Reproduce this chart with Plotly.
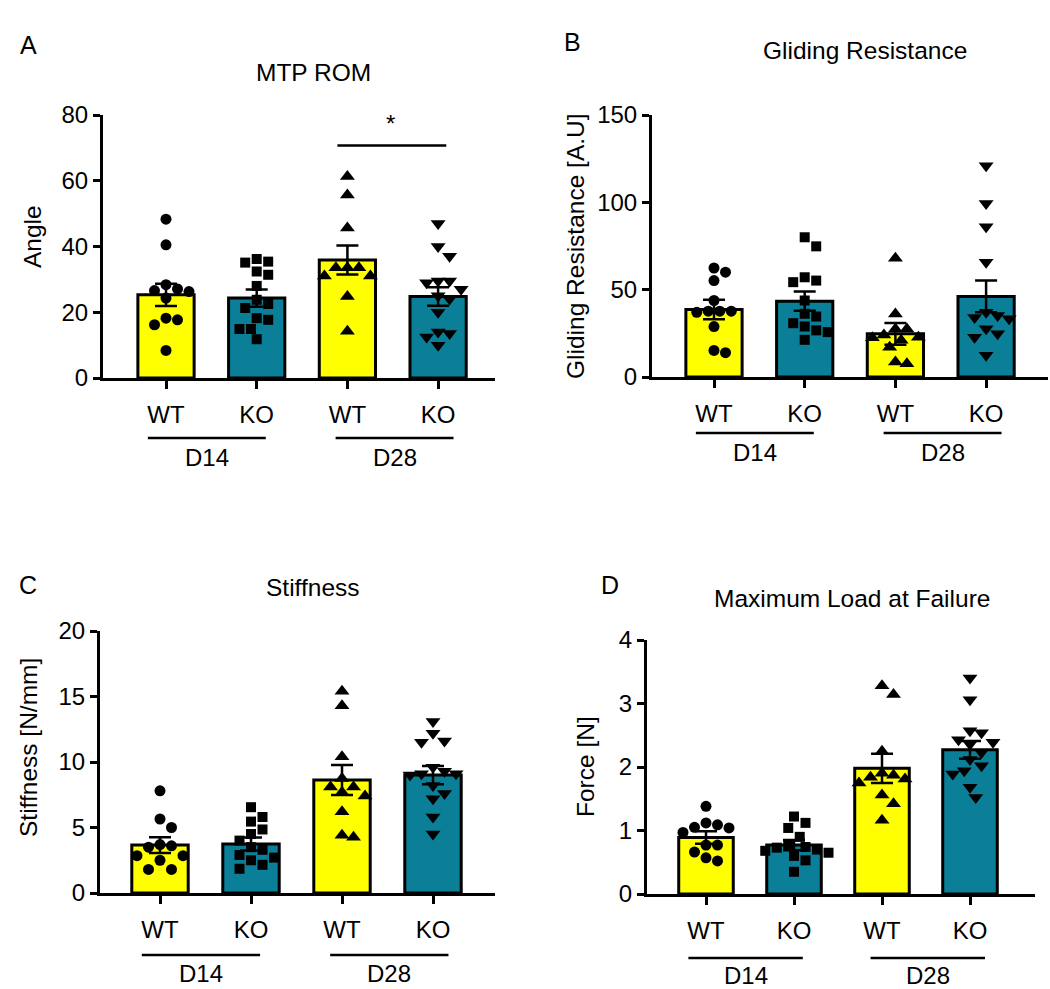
import plotly.graph_objects as go
import numpy as np

W, H = 1050, 989
FONT = "Liberation Sans, Arial, Helvetica, sans-serif"

# ---------------- data ----------------
genotypes = ["WT", "KO", "WT", "KO"]
timepoints = ["D14", "D28"]

# Panel A - MTP ROM (Angle)
a_wt14 = [48.3, 40.5, 28.4, 27.1, 26.6, 26.3, 24.3, 18.2, 17.7, 16.2, 8.4]
a_ko14 = [35.4, 32.4, 31.4, 35.1, 36.2, 28.0, 23.8, 22.5, 21.3, 18.2, 14.9, 17.7, 14.9, 11.8]
a_wt28 = [61.3, 55.7, 45.6, 33.5, 33.5, 33.5, 31.0, 31.0, 24.8, 14.2]
a_ko28 = [47.0, 40.0, 37.0, 29.5, 29.0, 29.5, 27.0, 25.0, 24.0, 20.0, 13.5, 14.0, 10.0, 12.5]
a_mean = [25.3, 24.3, 35.9, 24.8]
a_sem = [3.4, 2.6, 4.4, 2.8]

# Panel B - Gliding Resistance
b_wt14 = [60.0, 62.4, 55.2, 43.8, 37.7, 37.7, 37.0, 37.7, 28.9, 13.9, 15.2]
b_ko14 = [80.0, 74.8, 57.1, 54.3, 55.2, 43.8, 34.6, 36.2, 30.8, 28.9, 26.7, 25.7, 21.3]
b_wt28 = [68.0, 36.0, 27.5, 27.5, 24.0, 22.8, 22.5, 21.0, 17.0, 7.6, 8.6]
b_ko28 = [121.0, 99.4, 86.0, 65.7, 37.1, 33.3, 35.2, 34.0, 24.7, 22.8, 27.6, 12.4]
b_mean = [38.6, 43.4, 24.7, 46.1]
b_sem = [5.6, 5.5, 6.2, 9.1]

# Panel C - Stiffness
c_wt14 = [7.8, 5.65, 5.0, 3.6, 3.5, 3.7, 2.85, 2.85, 2.5, 1.8, 1.8]
c_ko14 = [6.55, 5.8, 5.45, 4.5, 4.85, 4.0, 3.5, 3.3, 2.9, 2.5, 2.7, 2.15, 1.85]
c_wt28 = [15.4, 14.3, 10.4, 8.75, 8.1, 8.1, 7.4, 7.7, 6.2, 4.25, 4.4]
c_ko28 = [13.1, 12.2, 11.5, 11.6, 9.6, 9.3, 9.1, 9.0, 9.1, 8.2, 7.6, 7.2, 5.8, 4.5]
c_mean = [3.66, 3.74, 8.63, 9.0]
c_sem = [0.6, 0.5, 1.14, 0.7]

# Panel D - Maximum Load at Failure
d_wt14 = [1.38, 1.05, 1.09, 1.12, 1.04, 0.97, 0.66, 0.77, 0.77, 0.52, 0.57]
d_ko14 = [1.22, 1.12, 1.04, 0.90, 0.78, 0.73, 0.74, 0.70, 0.68, 0.65, 0.60, 0.53, 0.35]
d_wt28 = [3.28, 3.14, 2.25, 1.90, 1.84, 1.75, 1.81, 1.87, 1.56, 1.42, 1.16]
d_ko28 = [3.40, 3.06, 2.57, 2.54, 2.39, 2.43, 2.36, 2.23, 2.12, 2.02, 1.94, 1.89, 1.68, 1.52]
d_mean = [0.89, 0.77, 1.98, 2.27]
d_sem = [0.10, 0.08, 0.23, 0.14]

a_ticks = [0, 20, 40, 60, 80]
b_ticks = [0, 50, 100, 150]
c_ticks = [0, 5, 10, 15, 20]
d_ticks = [0, 1, 2, 3, 4]

# ---------------- styling / layout geometry (pixels) ----------------
YELLOW = "#FFFF00"
TEAL = "#0A7F97"
bar_colors = [YELLOW, TEAL, YELLOW, TEAL]
symbols = ["circle", "square", "triangle-up", "triangle-down"]
sizes = [11, 10, 13, 13]
TICK_FS = 24
TITLE_FS = 24.5

panels = [
    dict(letter="A", title="MTP ROM", ytitle="Angle",
         groups=[a_wt14, a_ko14, a_wt28, a_ko28], mean=a_mean, sem=a_sem, ticks=a_ticks,
         x0=103, xr=495, first=166, sp=90.7, ytop=115, ybot=378,
         letter_xy=(28, 45), title_xy=(313, 72), ytitle_xy=(33, 237),
         gline_y=438, glabel_y=457),
    dict(letter="B", title="Gliding Resistance", ytitle="Gliding Resistance [A.U]",
         groups=[b_wt14, b_ko14, b_wt28, b_ko28], mean=b_mean, sem=b_sem, ticks=b_ticks,
         x0=652, xr=1048, first=714, sp=90.7, ytop=115, ybot=377,
         letter_xy=(572, 42), title_xy=(865, 50), ytitle_xy=(575, 246),
         gline_y=433, glabel_y=452),
    dict(letter="C", title="Stiffness", ytitle="Stiffness [N/mm]",
         groups=[c_wt14, c_ko14, c_wt28, c_ko28], mean=c_mean, sem=c_sem, ticks=c_ticks,
         x0=100, xr=495, first=160, sp=91.0, ytop=631, ybot=893,
         letter_xy=(28, 585), title_xy=(313, 587), ytitle_xy=(28, 748),
         gline_y=955, glabel_y=973),
    dict(letter="D", title="Maximum Load at Failure", ytitle="Force [N]",
         groups=[d_wt14, d_ko14, d_wt28, d_ko28], mean=d_mean, sem=d_sem, ticks=d_ticks,
         x0=647, xr=1035, first=706, sp=88.0, ytop=640, ybot=894,
         letter_xy=(610, 585), title_xy=(852, 598), ytitle_xy=(585, 767),
         gline_y=958, glabel_y=975),
]


def swarm(vals, ypx, xpx, diam=11.5, step=5.75):
    vals = np.asarray(vals, dtype=float)
    order = np.argsort(-vals, kind="stable")
    placed = []
    offs = np.zeros(len(vals))
    cands = [0.0]
    for j in range(1, 14):
        cands += [j * step, -j * step]
    for idx in order:
        y = vals[idx] * ypx
        chosen = cands[-1]
        for c in cands:
            if all((c - px) ** 2 + (y - py) ** 2 >= diam ** 2 for px, py in placed):
                chosen = c
                break
        placed.append((chosen, y))
        offs[idx] = chosen / xpx
    return offs


def px2x(p):
    return p / W


def px2y(p):
    return 1 - p / H


fig = go.Figure()
annotations = []
shapes = []

for i, P in enumerate(panels):
    n = "" if i == 0 else str(i + 1)
    xa, ya = "x" + n, "y" + n
    ymax = P["ticks"][-1]
    xrange_ = [-(P["first"] - P["x0"]) / P["sp"], (P["xr"] - P["first"]) / P["sp"]]
    ypx = (P["ybot"] - P["ytop"]) / ymax

    fig.add_trace(go.Bar(
        x=[0, 1, 2, 3], y=P["mean"], width=0.62,
        marker=dict(color=bar_colors, line=dict(color="black", width=3)),
        error_y=dict(type="data", array=P["sem"], visible=True, color="black",
                     thickness=2.5, width=11),
        xaxis=xa, yaxis=ya, showlegend=False, hoverinfo="skip"))

    for g, vals in enumerate(P["groups"]):
        offs = swarm(vals, ypx, P["sp"])
        fig.add_trace(go.Scatter(
            x=g + offs, y=vals, mode="markers",
            marker=dict(symbol=symbols[g], size=sizes[g], color="black",
                        line=dict(width=0)),
            xaxis=xa, yaxis=ya, showlegend=False, hoverinfo="skip"))

    fig.layout["xaxis" + n] = dict(
        domain=[px2x(P["x0"]), px2x(P["xr"])], anchor=ya, range=xrange_,
        tickvals=[0, 1, 2, 3], ticktext=genotypes, showline=True, linewidth=3,
        linecolor="black", ticks="outside", ticklen=8, tickwidth=2.5,
        tickcolor="black", showgrid=False, zeroline=False, ticklabelstandoff=5,
        automargin=False,
        tickfont=dict(family=FONT, size=TICK_FS, color="black"))
    fig.layout["yaxis" + n] = dict(
        domain=[px2y(P["ybot"]), px2y(P["ytop"])], anchor=xa, range=[0, ymax],
        tickvals=P["ticks"], showline=True, linewidth=3, linecolor="black",
        ticks="outside", ticklen=7, tickwidth=2.5, tickcolor="black",
        showgrid=False, zeroline=False, automargin=False,
        tickfont=dict(family=FONT, size=TICK_FS, color="black"))

    # group lines and labels
    for (a, b), lab in zip([(-0.2, 1.1), (1.87, 3.17)], timepoints):
        shapes.append(dict(type="line", xref=xa, yref="paper", x0=a, x1=b,
                           y0=px2y(P["gline_y"]), y1=px2y(P["gline_y"]),
                           line=dict(color="black", width=2.5)))
        annotations.append(dict(text=lab, xref=xa, yref="paper", x=(a + b) / 2,
                                y=px2y(P["glabel_y"]), showarrow=False,
                                font=dict(family=FONT, size=TICK_FS, color="black"),
                                xanchor="center", yanchor="middle"))

    annotations.append(dict(text=P["letter"], xref="paper", yref="paper",
                            x=px2x(P["letter_xy"][0]), y=px2y(P["letter_xy"][1]),
                            showarrow=False, xanchor="center", yanchor="middle",
                            font=dict(family=FONT, size=25, color="black")))
    annotations.append(dict(text=P["title"], xref="paper", yref="paper",
                            x=px2x(P["title_xy"][0]), y=px2y(P["title_xy"][1]),
                            showarrow=False, xanchor="center", yanchor="middle",
                            font=dict(family=FONT, size=TITLE_FS, color="black")))
    annotations.append(dict(text=P["ytitle"], xref="paper", yref="paper",
                            x=px2x(P["ytitle_xy"][0]), y=px2y(P["ytitle_xy"][1]),
                            showarrow=False, xanchor="center", yanchor="middle",
                            textangle=-90,
                            font=dict(family=FONT, size=TITLE_FS, color="black")))

# significance bar in panel A
shapes.append(dict(type="line", xref="x", yref="y", x0=1.89, x1=3.09, y0=70.7, y1=70.7,
                   line=dict(color="black", width=2.5)))
annotations.append(dict(text="*", xref="x", yref="y", x=2.47, y=77.5, showarrow=False,
                        xanchor="center", yanchor="middle",
                        font=dict(family=FONT, size=TICK_FS, color="black")))

fig.update_layout(
    width=W, height=H, margin=dict(l=0, r=0, t=0, b=0, autoexpand=False),
    paper_bgcolor="white", plot_bgcolor="white",
    annotations=annotations, shapes=shapes, barmode="overlay",
    font=dict(family=FONT, color="black"))

fig.write_html(
    "out.html",
    config={"displayModeBar": False},
    post_script="document.body.style.margin='0';document.body.style.padding='0';"
                "document.body.style.overflow='hidden';")
